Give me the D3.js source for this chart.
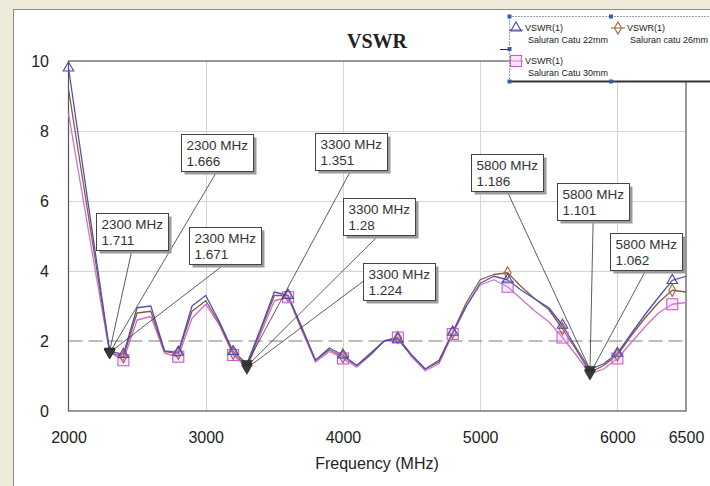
<!DOCTYPE html>
<html><head><meta charset="utf-8">
<script src="https://cdn.jsdelivr.net/npm/d3@7"></script>
<style>
body{margin:0;background:#fff}
svg{display:block}
</style>
</head><body>
<svg id="chart" width="710" height="486" font-family="Arial, 'Liberation Sans', sans-serif"></svg>
<script>
// ---------------- data ----------------
const frequencies = [2000,2100,2200,2300,2400,2500,2600,2700,2800,2900,3000,3100,3200,3300,3400,3500,3600,3700,3800,3900,4000,4100,4200,4300,4400,4500,4600,4700,4800,4900,5000,5100,5200,5300,5400,5500,5600,5700,5800,5900,6000,6100,6200,6300,6400,6500];
const vswr22mm = [9.8,7.1,4.4,1.711,1.62,2.95,3.0,1.72,1.68,3.0,3.3,2.55,1.7,1.351,2.35,3.4,3.3,2.4,1.45,1.8,1.6,1.3,1.65,2.0,2.05,1.6,1.2,1.45,2.25,3.0,3.65,3.85,3.75,3.45,3.2,2.95,2.45,1.8,1.186,1.35,1.65,2.2,2.75,3.25,3.73,3.85];
const vswr26mm = [9.2,6.7,4.2,1.666,1.55,2.8,2.85,1.7,1.65,2.85,3.15,2.5,1.65,1.28,2.3,3.3,3.3,2.35,1.45,1.75,1.55,1.3,1.6,2.0,2.1,1.6,1.2,1.4,2.25,3.1,3.75,3.9,3.95,3.55,3.2,2.9,2.35,1.75,1.101,1.3,1.6,2.15,2.65,3.1,3.45,3.4];
const vswr30mm = [8.5,6.2,3.9,1.671,1.45,2.6,2.7,1.65,1.55,2.65,3.05,2.45,1.6,1.224,2.2,3.15,3.25,2.3,1.4,1.7,1.5,1.25,1.6,2.0,2.1,1.55,1.15,1.35,2.2,3.0,3.6,3.75,3.55,3.2,2.85,2.55,2.1,1.6,1.062,1.2,1.5,1.95,2.4,2.8,3.05,3.1];
const markerFreq22 = [2000,2400,2800,3200,3600,4000,4400,4800,5200,5600,6000,6400];
const markerFreq26 = [2400,2800,3200,3600,4000,4400,4800,5200,5600,6000,6400];
const markerFreq30 = [2400,2800,3200,3600,4000,4400,4800,5200,5600,6000,6400];
const seriesLabels = ["Saluran Catu 22mm","Saluran catu 26mm","Saluran Catu 30mm"];
const xTickValues = [2000,3000,4000,5000,6000,6500];
const yTickValues = [0,2,4,6,8,10];
const gridX = [3000,4000,5000,6000];
const gridY = [4,6,8];
const referenceVswr = 2;
// callouts: frequency, series index, value shown
const calloutFreq = [2300,2300,2300,3300,3300,3300,5800,5800,5800];
const calloutSeries = [1,0,2,0,1,2,0,1,2];
const calloutValue = ["1.666","1.711","1.671","1.351","1.28","1.224","1.186","1.101","1.062"];
// callout box top-left, expressed in data units (layout only)
const calloutBoxFreq = [2820,2200,2878,3797,4001,4147,4934,5561,5947];
const calloutBoxVswr = [7.91,5.66,5.26,7.94,6.09,4.23,7.34,6.51,5.09];
const calloutAnchor = ["bottom","bottom","bottom","bottom","bottom","left","bottom","bottom","bottom"];

// ---------------- drawing ----------------
const svg = d3.select("#chart");
const W = 710, H = 486;
const x = d3.scaleLinear().domain([2000,6500]).range([68.5,686]);
const y = d3.scaleLinear().domain([0,10]).range([411,61]);

// page background + outer frame
svg.append("rect").attr("width",W).attr("height",H).attr("fill","#efebdb");
svg.append("rect").attr("x",13).attr("y",9).attr("width",W-13).attr("height",H-9).attr("fill","#fff");
svg.append("line").attr("x1",13).attr("x2",W).attr("y1",9.5).attr("y2",9.5).attr("stroke","#8a8a8a");
svg.append("line").attr("x1",13.5).attr("x2",13.5).attr("y1",9).attr("y2",H).attr("stroke","#8a8a8a");

// grid
const g = svg.append("g");
g.selectAll(".gx").data(gridX).join("line")
  .attr("x1",d=>Math.round(x(d))+0.5).attr("x2",d=>Math.round(x(d))+0.5)
  .attr("y1",y(10)).attr("y2",y(0)).attr("stroke","#d4d4d4");
g.selectAll(".gy").data(gridY).join("line")
  .attr("x1",x(2000)).attr("x2",x(6500))
  .attr("y1",d=>Math.round(y(d))+0.5).attr("y2",d=>Math.round(y(d))+0.5).attr("stroke","#d4d4d4");
g.append("line").attr("x1",x(2000)).attr("x2",x(6500))
  .attr("y1",y(referenceVswr)).attr("y2",y(referenceVswr))
  .attr("stroke","#a8a8a8").attr("stroke-width",1.6).attr("stroke-dasharray","14,6");

// frame
g.append("rect").attr("x",x(2000)).attr("y",y(10)).attr("width",x(6500)-x(2000)).attr("height",y(0)-y(10))
  .attr("fill","none").attr("stroke","#555").attr("stroke-width",1.2);

// axes
const xAxis = d3.axisBottom(x).tickValues(xTickValues).tickSize(0).tickPadding(0).tickFormat(d3.format("d"));
svg.append("g").attr("transform","translate(0,432)").call(xAxis)
  .call(s=>s.select(".domain").remove())
  .selectAll("text").attr("font-size",16).attr("fill","#222").attr("font-family","Arial,'Liberation Sans',sans-serif").attr("dy","0.7em");
const yAxis = d3.axisLeft(y).tickValues(yTickValues).tickSize(0).tickPadding(0);
svg.append("g").attr("transform","translate(49,0)").call(yAxis)
  .call(s=>s.select(".domain").remove())
  .selectAll("text").attr("font-size",16).attr("fill","#222").attr("font-family","Arial,'Liberation Sans',sans-serif");

svg.append("text").attr("x",377).attr("y",469).attr("text-anchor","middle")
  .attr("font-size",16).attr("fill","#222").text("Frequency (MHz)");
svg.append("text").attr("x",377).attr("y",48).attr("text-anchor","middle")
  .attr("font-family","'Liberation Serif','Times New Roman',serif").attr("font-weight","bold")
  .attr("font-size",20).attr("fill","#222").text("VSWR");

// series
const seriesValues = [vswr22mm, vswr26mm, vswr30mm];
const seriesMarkers = [markerFreq22, markerFreq26, markerFreq30];
const lineColors = ["#5050b4","#8a5a3c","#d070d0"];
const markerColors = ["#4848b0","#b0603c","#c860c8"];
const line = d3.line().x(d=>x(d[0])).y(d=>y(d[1]));
const plot = svg.append("g");
[2,1,0].forEach(i=>{
  const pts = frequencies.map((f,k)=>[f, seriesValues[i][k]]);
  plot.append("path").datum(pts).attr("d",line).attr("fill","none")
    .attr("stroke",lineColors[i]).attr("stroke-width",1.3).attr("stroke-linejoin","round");
});
function drawMarker(sel, i, cx, cy){
  if(i===0){
    sel.append("path").attr("d",d3.symbol().type(d3.symbolTriangle).size(48)())
      .attr("transform",`translate(${cx},${cy})`).attr("fill","none").attr("stroke",markerColors[0]).attr("stroke-width",1.1);
  } else if(i===1){
    sel.append("path").attr("d",d3.symbol().type(d3.symbolDiamond).size(42)())
      .attr("transform",`translate(${cx},${cy})`).attr("fill","none").attr("stroke",markerColors[1]).attr("stroke-width",1.1);
  } else {
    sel.append("rect").attr("x",cx-5.5).attr("y",cy-5.5).attr("width",11).attr("height",11)
      .attr("fill","rgba(230,160,230,0.25)").attr("stroke",markerColors[2]).attr("stroke-width",1.1);
  }
}
[2,1,0].forEach(i=>{
  seriesMarkers[i].forEach(f=>{
    const k = frequencies.indexOf(f);
    drawMarker(plot, i, x(f), y(seriesValues[i][k]));
  });
});

// callouts
const co = svg.append("g");
const boxW = 72, boxH = 37;
calloutFreq.forEach((f,j)=>{
  const k = frequencies.indexOf(f);
  const px = x(f), py = y(seriesValues[calloutSeries[j]][k]);
  const bx = x(calloutBoxFreq[j]), by = y(calloutBoxVswr[j]);
  const ax = calloutAnchor[j]==="left" ? bx : bx + boxW/2;
  const ay = calloutAnchor[j]==="left" ? by + boxH/2 : by + boxH;
  co.append("line").attr("x1",px).attr("y1",py).attr("x2",ax).attr("y2",ay)
    .attr("stroke","#333").attr("stroke-width",0.8);
});
calloutFreq.forEach((f,j)=>{
  const k = frequencies.indexOf(f);
  const px = x(f), py = y(seriesValues[calloutSeries[j]][k]);
  co.append("path").attr("d",d3.symbol().type(d3.symbolTriangle).size(50)())
    .attr("transform",`translate(${px},${py}) rotate(180)`).attr("fill","#3a3a3a").attr("stroke","#222").attr("stroke-width",0.6);
});
calloutFreq.forEach((f,j)=>{
  const bx = Math.round(x(calloutBoxFreq[j]))+0.5, by = Math.round(y(calloutBoxVswr[j]))+0.5;
  co.append("rect").attr("x",bx+3).attr("y",by+3).attr("width",boxW).attr("height",boxH).attr("fill","#9a9a9a");
  co.append("rect").attr("x",bx).attr("y",by).attr("width",boxW).attr("height",boxH)
    .attr("fill","#fff").attr("stroke","#444").attr("stroke-width",1);
  co.append("text").attr("x",bx+5).attr("y",by+15).attr("font-size",13.5).attr("fill","#333").text(f+" MHz");
  co.append("text").attr("x",bx+5).attr("y",by+31).attr("font-size",13.5).attr("fill","#333").text(calloutValue[j]);
});

// legend
const lg = svg.append("g");
lg.append("rect").attr("x",509.5).attr("y",16.5).attr("width",215).attr("height",65)
  .attr("fill","#fff").attr("stroke","#34457a").attr("stroke-width",1).attr("stroke-dasharray","1,2");
lg.append("line").attr("x1",509).attr("x2",710).attr("y1",81.5).attr("y2",81.5).attr("stroke","#333").attr("stroke-width",2);
lg.append("line").attr("x1",500).attr("x2",509).attr("y1",49.5).attr("y2",49.5).attr("stroke","#333");
[[509.5,16.5],[611,16.5],[509.5,49],[509.5,81.5],[611,81.5]].forEach(p=>{
  lg.append("rect").attr("x",p[0]-2).attr("y",p[1]-2).attr("width",4).attr("height",4).attr("fill","#3a5ab0");
});
const legendPos = [[516,28],[618,28],[516,61]];
seriesLabels.forEach((lab,i)=>{
  const [lx,ly] = legendPos[i];
  lg.append("line").attr("x1",lx-7).attr("x2",lx+7).attr("y1",ly+(i===0?2:0)).attr("y2",ly+(i===0?2:0))
    .attr("stroke",lineColors[i]).attr("stroke-width",1);
  drawMarker(lg, i, lx, ly);
  lg.append("text").attr("x",lx+9).attr("y",ly+3).attr("font-size",9).attr("fill","#222").text("VSWR(1)");
  lg.append("text").attr("x",lx+12).attr("y",ly+15).attr("font-size",9).attr("fill","#222").text(lab);
});
</script>
</body></html>
